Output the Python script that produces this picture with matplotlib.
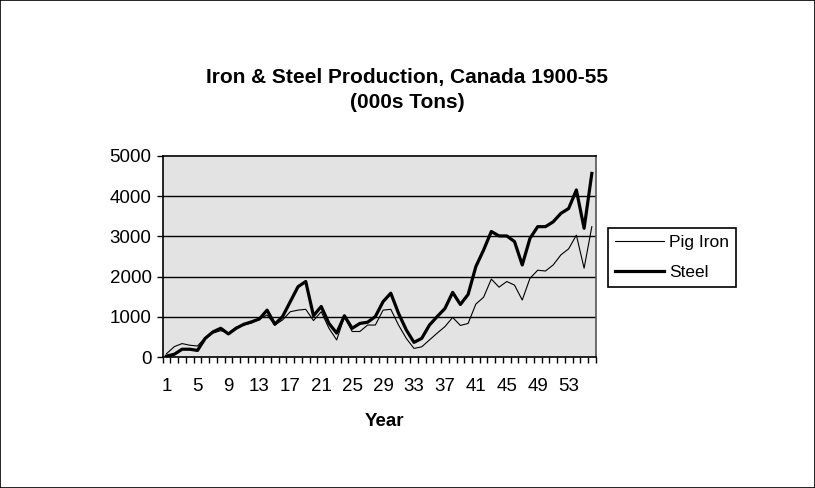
import matplotlib
matplotlib.use("Agg")
import matplotlib.pyplot as plt
from matplotlib.patches import Rectangle
from matplotlib.ticker import FixedLocator, NullFormatter, FixedFormatter

plt.rcParams['font.family'] = ['Liberation Sans', 'DejaVu Sans']

years = list(range(1, 57))
pig_iron = [90, 265, 340, 300, 280, 490, 600, 660, 600, 750, 800, 850, 950, 1050,
            800, 925, 1130, 1170, 1190, 910, 1130, 720, 430, 1000, 640, 640,
            800, 800, 1170, 1190, 800, 470, 220, 260, 430, 600, 760, 990, 790, 840,
            1320, 1490, 1940, 1740, 1880, 1790, 1420, 1960, 2160, 2140, 2290, 2540,
            2690, 3030, 2210, 3240]
steel = [30, 75, 200, 200, 170, 470, 630, 720, 580, 720, 820, 880, 950, 1170,
         820, 1010, 1380, 1750, 1880, 1030, 1260, 840, 600, 1030, 720, 840,
         870, 1010, 1380, 1590, 1090, 680, 370, 470, 800, 1010, 1210, 1610, 1310, 1560,
         2250, 2660, 3120, 3010, 3010, 2870, 2290, 2950, 3240, 3240, 3360, 3570,
         3690, 4150, 3200, 4560]
xtick_labels = [str(v) for v in range(1, 57, 4)]
yticks = [0, 1000, 2000, 3000, 4000, 5000]

W, H = 815, 488
fig = plt.figure(figsize=(W / 100, H / 100), dpi=100)
fig.patches.append(Rectangle((0, 0), 1, 1, transform=fig.transFigure,
                             fill=False, edgecolor='black', linewidth=1.2))

left, right, top, bottom = 162.7, 595.7, 155.7, 357.3
ax = fig.add_axes([left / W, 1 - bottom / H, (right - left) / W, (bottom - top) / H])
ax.set_facecolor('#e3e3e3')

ax.plot(years, pig_iron, color='black', linewidth=0.8, label='Pig Iron', zorder=3)
ax.plot(years, steel, color='black', linewidth=2.3, label='Steel', zorder=4)

ax.set_xlim(0.5, 56.5)
ax.set_ylim(0, 5000)
ax.set_yticks(yticks)
ax.set_yticklabels([str(v) for v in yticks])
for v in yticks[1:-1]:
    ax.axhline(v, color='black', linewidth=1.0, zorder=2)

ax.xaxis.set_major_locator(FixedLocator([i + 0.5 for i in range(0, 57)]))
ax.xaxis.set_major_formatter(NullFormatter())
ax.xaxis.set_minor_locator(FixedLocator(list(range(1, 57, 4))))
ax.xaxis.set_minor_formatter(FixedFormatter(xtick_labels))
ax.tick_params(axis='x', which='major', direction='out', length=4, width=1)
ax.tick_params(axis='x', which='minor', length=0, pad=15, labelsize=13.5)
ax.tick_params(axis='y', direction='out', length=4, width=1, pad=4, labelsize=13.5)

for s in ['left', 'bottom', 'top']:
    ax.spines[s].set_color('black')
    ax.spines[s].set_linewidth(1.2)
ax.spines['right'].set_color('#555555')
ax.spines['right'].set_linewidth(1.2)

fig.text(384 / W, 1 - 421 / H, 'Year', ha='center', va='center',
         fontsize=13.5, fontweight='bold')

fig.text(407 / W, 1 - 78 / H, 'Iron & Steel Production, Canada 1900-55',
         ha='center', va='center', fontsize=15, fontweight='bold')
fig.text(407 / W, 1 - 102 / H, '(000s Tons)',
         ha='center', va='center', fontsize=15, fontweight='bold')

leg = ax.legend(loc='center left', bbox_to_anchor=((608 - left) / (right - left), (357.3 - 257.5) / (bottom - top)),
                frameon=True, fancybox=False, edgecolor='black', framealpha=1,
                fontsize=12.5, handlelength=2.8, borderpad=0.4, labelspacing=0.85,
                handletextpad=0.3, borderaxespad=0)
leg.get_frame().set_linewidth(1.2)

fig.savefig('out.png', dpi=100)
